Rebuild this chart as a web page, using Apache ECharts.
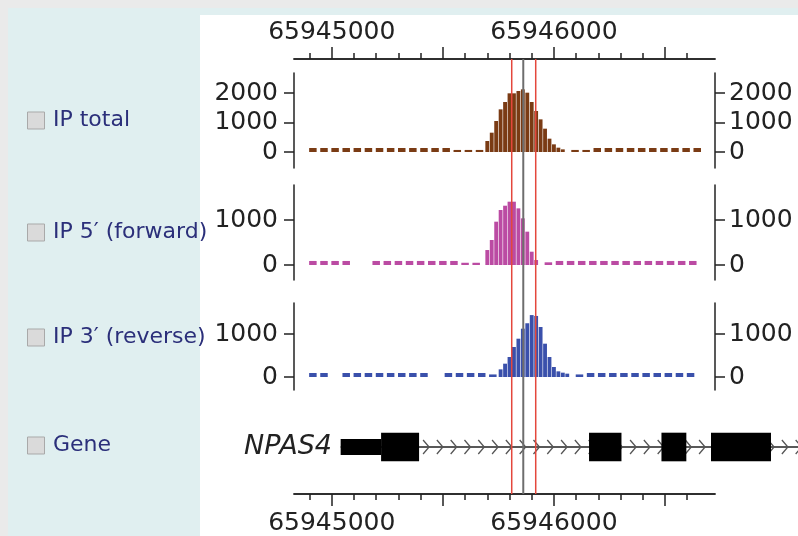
<!DOCTYPE html>
<html><head><meta charset="utf-8">
<script src="https://cdn.jsdelivr.net/npm/echarts@6/dist/echarts.min.js"></script>
<style>html,body{margin:0;padding:0;background:#fff}#c{width:798px;height:536px}</style>
</head><body><div id="c"></div>
<script>
// ---------- data ----------
const X_MIN = 65944830, X_MAX = 65946725;
const coordLabels = [65945000, 65946000];
const majorTicks = [65945000, 65945500, 65946000, 65946500];
const minorTicks = [65944900,65945000,65945100,65945200,65945300,65945400,65945500,65945600,65945700,65945800,
                    65945900,65946000,65946100,65946200,65946300,65946400,65946500,65946600];
const trackNames = ['IP total', 'IP 5\u2032 (forward)', 'IP 3\u2032 (reverse)', 'Gene'];

const PEAK_BIN = 20, DASH_BIN = 50;

// IP total
const totalDashStart = [65944890,65944940,65944990,65945040,65945090,65945140,65945190,65945240,65945290,65945340,
                        65945390,65945440,65945490,65945540,65945590,65945640,
                        65946070,65946120,65946170,65946220,65946270,65946320,65946370,65946420,65946470,65946520,65946570,65946620];
const totalDashVal   = [135,135,135,135,135,135,135,135,135,135,135,135,135,70,70,70,
                        70,70,135,135,135,135,135,135,135,135,135,135];
const totalPeakStart = [65945690,65945710,65945730,65945750,65945770,65945790,65945810,65945830,65945850,
                        65945870,65945890,65945910,65945930,65945950,65945970,65945990,65946010,65946030];
const totalPeakVal   = [373,655,1051,1446,1695,1989,1989,2068,2124,2011,1695,1390,1107,791,452,260,147,90];

// IP 5' (forward)
const fwdDashStart = [65944890,65944940,65944990,65945040,
                      65945175,65945225,65945275,65945325,65945375,65945425,65945475,65945525,65945575,65945625,
                      65945950,65946000,65946050,65946100,65946150,65946200,65946250,65946300,65946350,65946400,65946450,65946500,65946550,65946600];
const fwdDashVal   = [90,90,90,90, 90,90,90,90,90,90,90,90,50,50,
                      60,90,90,90,90,90,90,90,90,90,90,90,90,90];
const fwdPeakStart = [65945690,65945710,65945730,65945750,65945770,65945790,65945810,65945830,65945850,65945870,65945890,65945910];
const fwdPeakVal   = [333,556,963,1222,1318,1407,1407,1259,1037,741,296,111];

// IP 3' (reverse)
const revDashStart = [65944890,65944940,
                      65945040,65945090,65945140,65945190,65945240,65945290,65945340,65945390,
                      65945500,65945550,65945600,65945650,65945700,
                      65946090,65946140,65946190,65946240,65946290,65946340,65946390,65946440,65946490,65946540,65946590];
const revDashVal   = [93,93, 93,93,93,93,93,93,93,93, 93,93,93,93,60,
                      60,93,93,93,93,93,93,93,93,93,93];
const revPeakStart = [65945750,65945770,65945790,65945810,65945830,65945850,65945870,65945890,
                      65945910,65945930,65945950,65945970,65945990,65946010,65946030,65946050];
const revPeakVal   = [178,310,465,698,891,1124,1250,1440,1420,1163,775,465,233,132,101,78];

// Gene NPAS4
const geneName = 'NPAS4';
const geneBackbone = [[65945040, 65947120]];
const geneUTR = [[65945040, 65945222]];
const geneCDS = [[65945222, 65945393], [65946158, 65946304], [65946484, 65946596], [65946707, 65946977]];

// marker lines
const redLines = [65945810, 65945918];
const centerLines = [65945862];

// ---------- layout ----------
const GL = 294, GR = 83;
const FONT = 'DejaVu Sans';
const INK = '#222';
const colTotal = '#7a3b14', colFwd = '#bb4ba3', colRev = '#3a50ab';

const zip = (a, b) => a.map((v, i) => [v, b[i]]);

function barRender(bin, gap) {
  return function (params, api) {
    const s = api.value(0), v = api.value(1);
    const p0 = api.coord([s, 0]), p1 = api.coord([s + bin, v]);
    return { type: 'rect',
      shape: { x: p0[0] + gap / 2, y: p1[1], width: p1[0] - p0[0] - gap, height: p0[1] - p1[1] },
      style: { fill: api.visual('color') } };
  };
}

function hiddenX(grid) {
  return { type: 'value', gridIndex: grid, min: X_MIN, max: X_MAX, show: false, axisLine: { onZero: false } };
}
function coordAxis(pos, ticks, len, labels) {
  return { type: 'value', gridIndex: 0, position: pos, min: X_MIN, max: X_MAX,
    axisLine: { show: true, onZero: false, lineStyle: { color: INK, width: 1.5 } },
    axisTick: { show: true, customValues: ticks, length: len, lineStyle: { color: INK, width: 1.5 } },
    axisLabel: labels ? { show: true, customValues: labels, margin: pos === 'top' ? 14 : 17, fontSize: 25, fontFamily: FONT, color: INK,
                          formatter: v => String(v) } : { show: false },
    splitLine: { show: false } };
}
function trackY(grid, min, max, ticks, pos) {
  return { type: 'value', gridIndex: grid, position: pos, min: min, max: max,
    axisLine: { show: true, onZero: false, lineStyle: { color: INK, width: 1.5 } },
    axisTick: { show: true, customValues: ticks, length: 10, lineStyle: { color: INK, width: 1.5 } },
    axisLabel: { show: true, customValues: ticks, margin: pos === 'left' ? 16 : 14, fontSize: 25, fontFamily: FONT, color: INK,
                 formatter: v => String(v) },
    splitLine: { show: false } };
}

const labelY = [120, 232, 337, 445];
const graphics = [
  { type: 'rect', z: -10, shape: { x: 0, y: 0, width: 798, height: 536 }, style: { fill: '#eaeaea' }, silent: true },
  { type: 'rect', z: -9, shape: { x: 8, y: 8, width: 790, height: 528 }, style: { fill: '#e0eff0' }, silent: true },
  { type: 'rect', z: -8, shape: { x: 200, y: 15, width: 598, height: 521 }, style: { fill: '#ffffff' }, silent: true }
];
trackNames.forEach((name, i) => {
  graphics.push({ type: 'rect', z: 5, shape: { x: 27.5, y: labelY[i] - 8, width: 17, height: 17 },
    style: { fill: '#dadada', stroke: '#a9a9a9', lineWidth: 1 } });
  graphics.push({ type: 'text', z: 5, x: 53, y: labelY[i],
    style: { text: name, fill: '#2b2f7a', font: '22px "DejaVu Sans"', verticalAlign: 'middle', align: 'left' } });
});
graphics.push({ type: 'text', z: 5, x: 332, y: 447,
  style: { text: geneName, fill: INK, font: 'italic 27px "DejaVu Sans"', verticalAlign: 'middle', align: 'right' } });

const option = {
  animation: false,
  graphic: graphics,
  grid: [
    { left: GL, right: GR, top: 59, bottom: 41 },
    { left: GL, right: GR, top: 73, height: 95 },
    { left: GL, right: GR, top: 185, height: 95 },
    { left: GL, right: GR, top: 303, height: 87 },
    { left: GL, right: GR, top: 420, height: 54 }
  ],
  xAxis: [
    coordAxis('top', minorTicks, 6, null),
    coordAxis('top', majorTicks, 12, coordLabels),
    coordAxis('bottom', minorTicks, 6, null),
    coordAxis('bottom', majorTicks, 12, coordLabels),
    hiddenX(1), hiddenX(2), hiddenX(3), hiddenX(4)
  ],
  yAxis: [
    { type: 'value', gridIndex: 0, min: 0, max: 1, show: false },
    trackY(1, -542, 2678, [0, 1000, 2000], 'left'),
    trackY(1, -542, 2678, [0, 1000, 2000], 'right'),
    trackY(2, -333, 1778, [0, 1000], 'left'),
    trackY(2, -333, 1778, [0, 1000], 'right'),
    trackY(3, -302, 1721, [0, 1000], 'left'),
    trackY(3, -302, 1721, [0, 1000], 'right'),
    { type: 'value', gridIndex: 4, min: -1, max: 1, show: false }
  ],
  series: [
    { type: 'custom', xAxisIndex: 4, yAxisIndex: 1, itemStyle: { color: colTotal }, renderItem: barRender(DASH_BIN, 3.6), data: zip(totalDashStart, totalDashVal) },
    { type: 'custom', xAxisIndex: 4, yAxisIndex: 1, itemStyle: { color: colTotal }, renderItem: barRender(PEAK_BIN, 0.6), data: zip(totalPeakStart, totalPeakVal) },
    { type: 'custom', xAxisIndex: 5, yAxisIndex: 3, itemStyle: { color: colFwd }, renderItem: barRender(DASH_BIN, 3.6), data: zip(fwdDashStart, fwdDashVal) },
    { type: 'custom', xAxisIndex: 5, yAxisIndex: 3, itemStyle: { color: colFwd }, renderItem: barRender(PEAK_BIN, 0.6), data: zip(fwdPeakStart, fwdPeakVal) },
    { type: 'custom', xAxisIndex: 6, yAxisIndex: 5, itemStyle: { color: colRev }, renderItem: barRender(DASH_BIN, 3.6), data: zip(revDashStart, revDashVal) },
    { type: 'custom', xAxisIndex: 6, yAxisIndex: 5, itemStyle: { color: colRev }, renderItem: barRender(PEAK_BIN, 0.6), data: zip(revPeakStart, revPeakVal) },
    // gene backbone with strand chevrons
    { type: 'custom', xAxisIndex: 7, yAxisIndex: 7, clip: false, data: geneBackbone,
      renderItem: function (params, api) {
        const a = api.coord([api.value(0), 0]), b = api.coord([api.value(1), 0]);
        const firstEnd = api.coord([geneCDS[0][1], 0])[0];
        const children = [{ type: 'line', shape: { x1: a[0], y1: a[1], x2: b[0], y2: b[1] }, style: { stroke: INK, lineWidth: 1.5 } }];
        for (let x = firstEnd + 7; x < b[0]; x += 13.8) {
          children.push({ type: 'polyline', shape: { points: [[x - 3, a[1] - 7], [x + 3, a[1]], [x - 3, a[1] + 7]] },
            style: { stroke: '#555', lineWidth: 1.3, fill: null } });
        }
        return { type: 'group', children: children };
      } },
    // UTR (thin) blocks
    { type: 'custom', xAxisIndex: 7, yAxisIndex: 7, clip: false, data: geneUTR,
      renderItem: function (params, api) {
        const a = api.coord([api.value(0), 0.3]), b = api.coord([api.value(1), -0.3]);
        return { type: 'rect', shape: { x: a[0], y: a[1], width: b[0] - a[0], height: b[1] - a[1] }, style: { fill: '#000' } };
      } },
    // coding exons (thick)
    { type: 'custom', xAxisIndex: 7, yAxisIndex: 7, clip: false, data: geneCDS,
      renderItem: function (params, api) {
        const a = api.coord([api.value(0), 0.53]), b = api.coord([api.value(1), -0.53]);
        return { type: 'rect', shape: { x: a[0], y: a[1], width: b[0] - a[0], height: b[1] - a[1] }, style: { fill: '#000' } };
      } },
    // marker lines
    { type: 'custom', xAxisIndex: 0, yAxisIndex: 0, z: 10, data: redLines.map(v => [v, 0]).concat(centerLines.map(v => [v, 1])),
      renderItem: function (params, api) {
        const t = api.coord([api.value(0), 1]), btm = api.coord([api.value(0), 0]);
        const isCenter = api.value(1) === 1;
        return { type: 'line', shape: { x1: t[0], y1: t[1], x2: btm[0], y2: btm[1] },
          style: { stroke: isCenter ? '#6e6e6e' : '#e4473c', lineWidth: isCenter ? 2 : 1.5 } };
      } }
  ]
};
const chart = echarts.init(document.getElementById('c'), null, { renderer: 'canvas' });
chart.setOption(option);
</script>
</body></html>
